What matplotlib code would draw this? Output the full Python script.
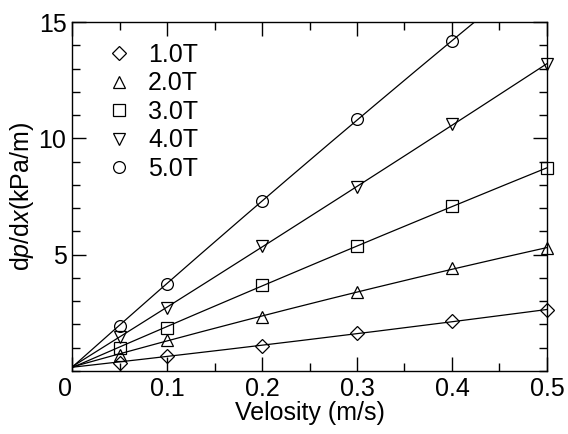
import numpy as np
import matplotlib
matplotlib.use('Agg')
import matplotlib.pyplot as plt
from matplotlib.ticker import MultipleLocator

plt.rcParams['font.family'] = ['Liberation Sans', 'DejaVu Sans']
plt.rcParams['mathtext.fontset'] = 'custom'
plt.rcParams['mathtext.rm'] = 'Liberation Sans'
plt.rcParams['mathtext.it'] = 'Liberation Sans:italic'

# velocity (m/s)
velocity = [0.05, 0.1, 0.2, 0.3, 0.4, 0.5]

# pressure gradient (kPa/m) per magnetic field
dp_1T = [0.34, 0.64, 1.07, 1.63, 2.15, 2.62]
dp_2T = [0.69, 1.33, 2.32, 3.40, 4.42, 5.28]
dp_3T = [0.99, 1.85, 3.70, 5.37, 7.09, 8.72]
dp_4T = [1.46, 2.70, 5.37, 7.90, 10.60, 13.20]
dp_5T = [1.93, 3.74, 7.31, 10.83, 14.18]

labels = ['1.0T', '2.0T', '3.0T', '4.0T', '5.0T']
markers = ['D', '^', 's', 'v', 'o']
series = [dp_1T, dp_2T, dp_3T, dp_4T, dp_5T]
y0 = 0.2  # where the fitted lines meet at zero velocity

fig = plt.figure(figsize=(5.68, 4.34), dpi=100)
ax = fig.add_axes([0.1268, 0.1452, 0.963 - 0.1268, 0.949 - 0.1452])

xs = np.linspace(0, 0.5, 200)
for lab, mk, ys in zip(labels, markers, series):
    xv = np.array(velocity[:len(ys)])
    yv = np.array(ys)
    # fitted curve through the common start point and the data
    coef = np.polyfit(np.r_[0, xv], np.r_[y0, yv], 2)
    ax.plot(xs, np.polyval(coef, xs), color='black', lw=0.9, zorder=2)
    ax.plot(xv, yv, linestyle='none', marker=mk, markersize=7 if mk == 'D' else 8.5,
            markerfacecolor='none', markeredgecolor='black', markeredgewidth=0.9,
            label=lab, zorder=3, clip_on=False)

ax.set_xlim(0, 0.5)
ax.set_ylim(0, 15)
ax.xaxis.set_minor_locator(MultipleLocator(0.05))
ax.yaxis.set_minor_locator(MultipleLocator(1))
ax.set_xticks([0, 0.1, 0.2, 0.3, 0.4, 0.5])
ax.set_xticklabels(['0', '0.1', '0.2', '0.3', '0.4', '0.5'])
ax.set_yticks([5, 10, 15])
ax.set_yticklabels(['5', '10', '15'])
ax.tick_params(which='both', direction='in', top=True, right=True,
               labelsize=18, width=1, pad=4)
ax.tick_params(which='major', length=10)
ax.tick_params(which='minor', length=6)
for s in ax.spines.values():
    s.set_linewidth(1)
# the origin label sits just left of the corner
ax.get_xticklabels()[0].set_horizontalalignment('right')

ax.set_xlabel('Velosity (m/s)', fontsize=18, labelpad=0)
ax.set_ylabel('d$\\it{p}$/d$\\it{x}$(kPa/m)', fontsize=18, labelpad=2)

leg = ax.legend(loc='upper left', frameon=False, fontsize=18,
                handlelength=1.5, handletextpad=0.4, labelspacing=0.18,
                borderaxespad=0.3, bbox_to_anchor=(0.023, 0.991), markerscale=1.0)

fig.savefig('out.png', dpi=100)
